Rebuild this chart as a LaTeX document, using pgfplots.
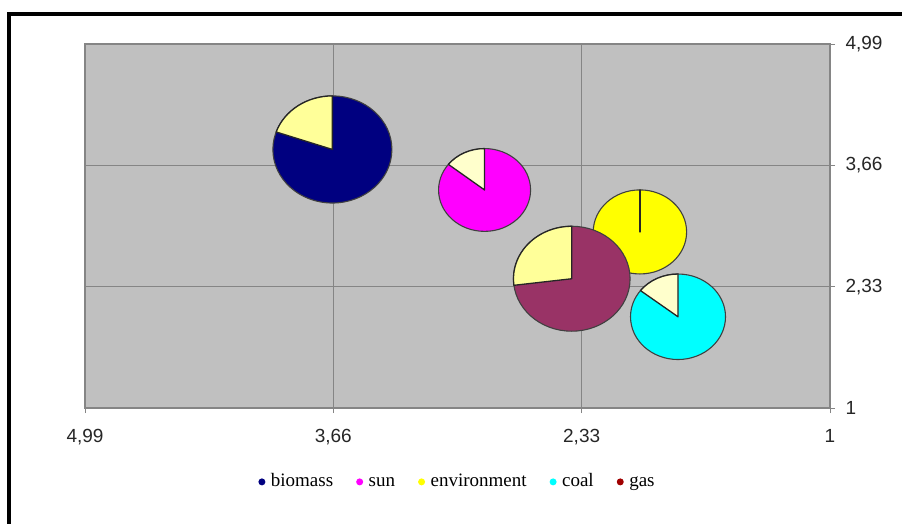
\documentclass[border=0pt]{standalone}
\usepackage{fontspec}
\setmainfont{Liberation Serif}
\newfontfamily\arialfont{Liberation Sans}
\usepackage{pgfplots}
\pgfplotsset{compat=1.18}
\definecolor{plotgray}{HTML}{C0C0C0}
\definecolor{gridgray}{HTML}{858585}
\definecolor{cbiomass}{HTML}{000080}
\definecolor{csun}{HTML}{FF00FF}
\definecolor{cenv}{HTML}{FFFF00}
\definecolor{ccoal}{HTML}{00FFFF}
\definecolor{cgas}{HTML}{993366}
\definecolor{cgasleg}{HTML}{A00000}
\definecolor{lightA}{HTML}{FFFF99}
\definecolor{lightB}{HTML}{FFFFCC}
\definecolor{pieedge}{HTML}{404040}
\pgfdeclareplotmark{empty}{}
\pgfplotsset{
  pie/.style 2 args={
    only marks, mark=empty, scatter,
    visualization depends on={\thisrow{r}\as\pieR},
    visualization depends on={\thisrow{f}\as\pieF},
    scatter/@pre marker code/.code={%
      \pgfmathsetmacro\pieRy{0.9*\pieR}%
      \pgfmathsetmacro\pieE{90+360*\pieF}%
      \draw[line width=1.1pt, draw=pieedge, fill=#1] (0pt,0pt) ellipse [x radius=\pieR pt, y radius=\pieRy pt];
      \draw[line width=1.3pt, draw=black!85, fill=#2, line join=round] (0pt,0pt) -- (0pt,\pieRy pt) arc [start angle=90, end angle=\pieE, x radius=\pieR pt, y radius=\pieRy pt] -- cycle;
    },
    scatter/@post marker code/.code={},
  },
  legdot/.style={legend image code/.code={\path[draw=none,fill=none] (-3.5pt,-1pt) rectangle (7pt,1pt); \fill[draw=none,#1] (0pt,0pt) circle (3.5pt);}},
}
\begin{document}
\begin{tikzpicture}[x=1pt,y=1pt]
\useasboundingbox (0,0) rectangle (902,523);
\fill[white] (0,0) rectangle (902,523);
\draw[line width=3.5pt, line cap=rect] (9,0) -- (9,509) -- (902,509);
\begin{axis}[
  at={(85pt,115pt)}, anchor=south west,
  scale only axis, width=745pt, height=364pt,
  x dir=reverse,
  xmin=1, xmax=4.99, ymin=1, ymax=4.99,
  xtick={1,2.33,3.66,4.99}, ytick={1,2.33,3.66,4.99},
  xticklabels={1,{2,33},{3,66},{4,99}},
  yticklabels={1,{2,33},{3,66},{4,99}},
  xtick pos=bottom, ytick pos=right,
  yticklabel pos=right,
  axis background/.style={fill=plotgray},
  grid=major, major grid style={color=gridgray, line width=0.9pt},
  axis line style={gridgray, line width=1.1pt},
  tick align=outside, major tick length=5pt, tick style={gridgray, line width=0.8pt},
  ticklabel style={font=\arialfont\fontsize{19}{19}\selectfont, text=black!85},
  xticklabel style={yshift=-13pt},
  yticklabel style={xshift=7pt},
  legend columns=5,
  legend style={at={(0.5,-0.203)}, anchor=center, draw=none, fill=none,
    font=\fontsize{19}{19}\selectfont,
    nodes={text height=13pt, text depth=4pt},
    /tikz/every even column/.append style={column sep=21pt}},
]
\addplot[pie={cbiomass}{lightA}, legdot=cbiomass] table {
x y r f
3.665 3.834 59.5 0.197
};
\addlegendentry{biomass}
\addplot[pie={csun}{lightB}, legdot=csun] table {
x y r f
2.85 3.39 46 0.144
};
\addlegendentry{sun}
\addplot[pie={cenv}{lightA}, legdot=cenv] table {
x y r f
2.018 2.93 46.7 0
};
\addlegendentry{environment}
\addplot[pie={ccoal}{lightB}, legdot=ccoal] table {
x y r f
1.814 2.00 47.5 0.145
};
\addlegendentry{coal}
\addplot[pie={cgas}{lightA}, legdot=cgasleg] table {
x y r f
2.383 2.417 58.3 0.27
};
\addlegendentry{gas}
\end{axis}
\end{tikzpicture}
\end{document}
